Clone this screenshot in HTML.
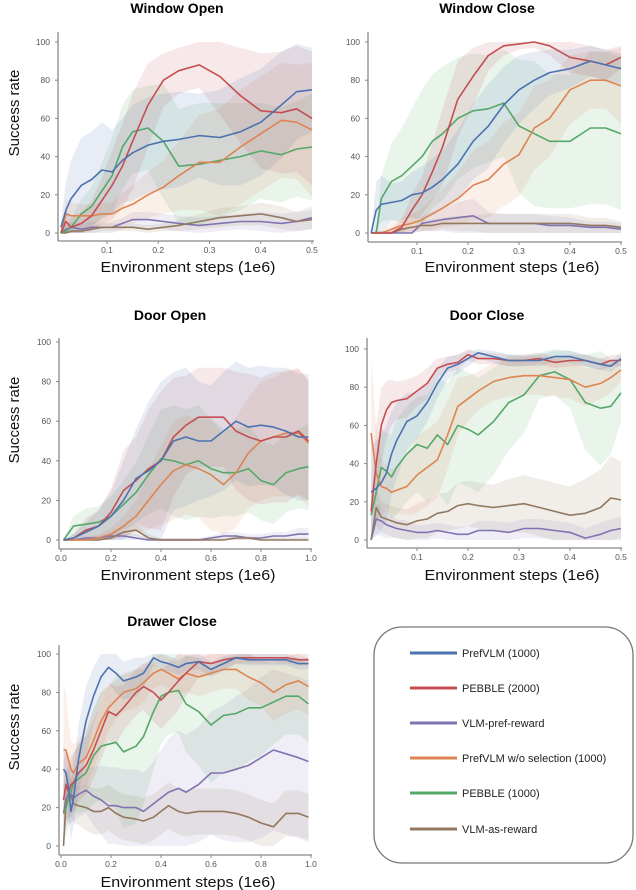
<!DOCTYPE html>
<html><head><meta charset="utf-8"><style>
html,body{margin:0;padding:0;background:#fff;}
svg{display:block;font-family:"Liberation Sans","DejaVu Sans",sans-serif;}
</style></head><body>
<svg id="fig" width="636" height="890" viewBox="0 0 636 890">
<g>
<rect x="374" y="627" width="259" height="236" rx="28" ry="28" fill="#fff" stroke="#777" stroke-width="1.3"/>
<g font-size="11" fill="#222">
<line x1="410" y1="653" x2="457" y2="653" stroke="#4c72b0" stroke-width="3"/><text x="462" y="657">PrefVLM (1000)</text>
<line x1="410" y1="688" x2="457" y2="688" stroke="#c44e52" stroke-width="3"/><text x="462" y="692">PEBBLE (2000)</text>
<line x1="410" y1="723" x2="457" y2="723" stroke="#8172b2" stroke-width="3"/><text x="462" y="727">VLM-pref-reward</text>
<line x1="410" y1="758" x2="457" y2="758" stroke="#dd8452" stroke-width="3"/><text x="462" y="762">PrefVLM w/o selection (1000)</text>
<line x1="410" y1="793" x2="457" y2="793" stroke="#55a868" stroke-width="3"/><text x="462" y="797">PEBBLE (1000)</text>
<line x1="410" y1="829" x2="457" y2="829" stroke="#937860" stroke-width="3"/><text x="462" y="833">VLM-as-reward</text>
</g></g>
</svg>
<script>
// ---- Window Open ----
const woX=[0.01,0.02,0.03,0.05,0.07,0.09,0.11,0.13,0.15,0.18,0.21,0.24,0.28,0.32,0.36,0.40,0.44,0.47,0.5];
const woBlue=[3,12,18,25,28,33,32,38,42,46,48,49,51,50,53,58,67,74,75];
const woRed=[0,6,3,5,9,17,25,35,48,67,80,85,88,82,72,64,63,65,60];
const woPurple=[0,2,3,2,3,3,3,5,7,7,6,5,4,5,6,6,5,6,8];
const woOrange=[0,10,9,9,9,10,10,13,15,20,24,30,37,37,45,52,59,58,54];
const woGreen=[0,1,3,10,14,22,30,45,53,55,48,35,36,38,40,43,41,44,45];
const woBrown=[0,0,1,1,2,3,3,3,3,2,3,4,6,8,9,10,8,6,7];
const woBlueSd=[3,15,20,25,25,25,22,22,25,25,25,25,22,25,28,28,28,25,22];
const woRedSd=[1,6,5,6,8,12,18,22,25,22,14,12,12,20,25,30,32,33,35];
const woPurpleSd=[1,2,3,3,3,3,3,3,4,4,4,4,4,4,4,5,5,5,6];
const woOrangeSd=[1,8,7,6,6,6,6,8,10,12,14,18,25,28,30,30,30,30,35];
const woGreenSd=[1,3,5,8,10,15,20,22,22,22,30,30,32,30,28,25,25,25,28];
const woBrownSd=[1,1,1,1,2,2,2,2,2,2,2,3,4,5,5,6,6,5,5];
// ---- Window Close ----
const wcX=[0.01,0.02,0.03,0.05,0.07,0.09,0.11,0.13,0.15,0.18,0.21,0.24,0.27,0.3,0.33,0.36,0.4,0.44,0.47,0.5];
const wcBlue=[0,12,15,16,17,20,21,24,28,36,48,56,67,75,80,84,86,90,88,86];
const wcRed=[0,0,0,0,3,12,20,32,45,70,82,93,98,99,100,98,92,90,88,92];
const wcPurple=[0,0,0,0,0,0,5,6,7,8,9,5,5,5,5,4,4,3,3,2];
const wcOrange=[0,0,0,2,4,5,7,10,13,18,25,28,36,41,55,60,75,80,80,77];
const wcGreen=[0,0,18,27,30,35,40,48,52,60,64,65,68,56,52,48,48,55,55,52];
const wcBrown=[0,0,0,0,2,3,4,4,5,5,5,5,5,5,5,5,5,4,4,3];
const wcBlueSd=[0,15,15,10,10,12,14,15,15,18,20,22,20,18,15,12,10,8,8,8];
const wcRedSd=[0,0,0,2,4,8,10,15,20,20,15,8,5,3,3,5,8,8,8,6];
const wcPurpleSd=[0,1,1,1,2,2,4,5,6,8,9,6,5,5,5,5,4,3,3,3];
const wcOrangeSd=[0,1,1,3,4,5,6,8,10,14,18,20,22,22,22,20,18,15,15,20];
const wcGreenSd=[0,2,12,20,25,30,35,35,35,32,30,28,28,35,38,35,35,40,40,40];
const wcBrownSd=[0,1,1,1,2,2,3,3,3,4,4,5,5,5,5,5,5,4,4,3];
// ---- Door Open ----
const doX=[0.01,0.05,0.1,0.15,0.2,0.25,0.3,0.35,0.4,0.45,0.5,0.55,0.6,0.65,0.7,0.75,0.8,0.85,0.9,0.95,0.99];
const doBlue=[0,1,4,7,12,20,31,35,40,50,52,50,50,55,60,57,58,57,55,52,52];
const doRed=[0,1,5,7,14,25,30,36,40,52,58,62,62,62,55,52,50,52,52,55,50];
const doPurple=[0,0,1,1,2,2,1,0,0,0,0,0,1,2,2,1,1,2,2,3,3];
const doOrange=[0,0,0,1,3,7,12,20,28,35,38,36,33,28,34,44,50,52,54,54,49];
const doGreen=[0,7,8,9,12,18,24,33,41,40,38,40,36,34,34,36,30,28,34,36,37];
const doBrown=[0,0,0,0,1,4,5,1,0,0,0,0,0,0,1,1,0,0,0,0,0];
const doBlueSd=[0,2,5,8,12,20,25,35,40,35,35,30,28,30,30,30,30,30,32,32,32];
const doRedSd=[0,2,6,8,12,20,22,30,35,30,25,25,25,25,30,32,32,33,33,32,30];
const doPurpleSd=[0,1,1,1,2,2,2,1,1,1,1,1,1,2,2,2,2,2,2,3,3];
const doOrangeSd=[0,1,1,2,3,5,8,15,20,25,25,25,28,25,28,28,30,30,32,32,32];
const doGreenSd=[0,5,8,8,10,12,15,20,25,28,28,28,25,22,22,22,20,20,20,20,22];
const doBrownSd=[0,1,1,1,2,3,3,2,1,1,1,1,1,1,1,1,1,1,1,1,1];
// ---- Door Close ----
const dcX=[0.01,0.02,0.03,0.04,0.05,0.06,0.08,0.1,0.12,0.14,0.16,0.18,0.2,0.22,0.25,0.28,0.31,0.34,0.37,0.4,0.43,0.46,0.48,0.5];
const dcBlue=[25,27,30,35,45,52,62,65,72,82,90,92,95,98,96,94,94,94,96,96,94,92,91,95];
const dcRed=[15,40,60,68,72,73,74,78,82,90,92,93,97,95,95,94,94,95,93,94,94,92,94,94];
const dcPurple=[0,11,10,8,7,6,5,4,4,5,4,3,3,5,5,4,6,6,5,4,1,3,5,6];
const dcOrange=[56,35,28,27,25,26,28,34,38,42,55,70,74,78,83,85,86,86,85,84,80,82,85,89];
const dcGreen=[13,25,38,36,33,38,45,50,48,55,50,60,58,55,62,72,76,86,88,84,72,69,70,77];
const dcBrown=[0,17,12,11,10,9,8,10,11,14,15,18,19,18,17,18,19,17,15,13,14,17,22,21];
const dcBlueSd=[25,25,25,25,22,20,15,12,10,8,6,5,4,3,3,3,3,3,3,3,3,3,3,3];
const dcRedSd=[10,20,20,15,12,10,10,8,8,5,4,4,3,3,3,3,3,3,3,3,3,3,3,3];
const dcPurpleSd=[0,8,8,7,6,5,5,4,4,4,4,4,4,5,5,5,5,5,5,5,5,6,6,6];
const dcOrangeSd=[40,25,15,12,12,12,15,20,20,20,18,15,12,10,10,10,10,10,10,10,10,8,8,6];
const dcGreenSd=[10,15,20,20,22,25,25,25,28,30,32,30,30,30,28,25,20,12,12,15,25,30,25,15];
const dcBrownSd=[0,10,8,8,8,8,8,9,10,10,10,12,12,12,12,14,15,15,15,15,18,20,22,20];
// ---- Drawer Close ----
const drX=[0.01,0.02,0.03,0.04,0.05,0.07,0.1,0.13,0.16,0.19,0.22,0.25,0.3,0.33,0.37,0.4,0.43,0.47,0.5,0.55,0.6,0.65,0.7,0.75,0.8,0.85,0.9,0.95,0.99];
const drBlue=[40,38,30,18,25,45,65,78,88,93,90,86,88,90,98,96,95,93,95,96,92,95,98,97,97,97,97,95,95];
const drRed=[24,32,28,32,33,38,42,50,60,70,68,72,80,83,80,76,80,86,90,96,95,97,98,98,98,98,98,97,97];
const drPurple=[17,25,27,27,25,27,29,26,24,21,21,20,20,18,22,25,28,30,28,32,38,38,40,42,46,50,48,46,44];
const drOrange=[50,50,45,40,38,43,46,55,65,72,76,80,82,85,90,92,90,87,90,88,90,92,92,88,85,80,84,86,83];
const drGreen=[17,20,25,28,33,35,38,47,52,53,54,49,52,57,70,78,80,81,74,70,63,68,69,72,72,75,78,78,74];
const drBrown=[0,23,25,26,22,21,20,18,18,20,17,15,14,13,15,18,21,18,17,18,18,18,17,15,12,10,17,17,15];
const drBlueSd=[12,12,15,15,15,18,18,15,12,8,10,10,10,8,4,4,4,4,4,4,4,4,3,3,3,3,3,3,3];
const drRedSd=[20,18,15,15,15,15,15,15,15,15,15,12,12,12,15,15,15,15,12,8,6,5,3,3,3,3,3,3,3];
const drPurpleSd=[15,15,15,15,12,12,12,15,18,20,20,20,20,20,22,25,28,30,30,30,32,35,38,40,42,42,42,42,42];
const drOrangeSd=[35,30,20,15,15,12,15,15,15,12,10,10,10,10,8,8,8,8,10,10,10,10,10,12,12,15,15,15,15];
const drGreenSd=[15,15,15,15,15,18,20,25,28,30,35,40,40,35,30,25,22,22,25,28,30,30,30,28,25,22,20,20,20];
const drBrownSd=[10,10,10,10,10,10,12,12,12,12,12,12,12,12,12,12,12,12,12,12,12,12,12,12,12,12,12,12,12];
const yTicks=[0,20,40,60,80,100];
const xTicksHalf=[0.1,0.2,0.3,0.4,0.5];
const xTicksFull=[0,0.2,0.4,0.6,0.8,1.0];
const xTickLabelsHalf=["0.1","0.2","0.3","0.4","0.5"];
const xTickLabelsFull=["0.0","0.2","0.4","0.6","0.8","1.0"];

const NS="http://www.w3.org/2000/svg";
const svg=document.getElementById('fig');
const legendNode=svg.firstElementChild;
const colors={blue:'#4c72b0',red:'#c44e52',purple:'#8172b2',orange:'#dd8452',green:'#55a868',brown:'#937860'};
function mk(tag,attrs,parent){const e=document.createElementNS(NS,tag);for(const k in attrs)e.setAttribute(k,attrs[k]);parent.appendChild(e);return e;}

function plot(c){
  const g=document.createElementNS(NS,'g');
  
  
  svg.insertBefore(g,legendNode);
  const xs=v=>c.xa+(v-c.va)*(c.xb-c.xa)/(c.vb-c.va);
  const ys=v=>c.y0+(c.y100-c.y0)*v/100;
  // bands
  c.series.forEach(s=>{
    const up=s.m.map((v,i)=>xs(c.x[i]).toFixed(1)+','+ys(Math.min(100,v+s.sd[i])).toFixed(1));
    const lo=s.m.map((v,i)=>xs(c.x[i]).toFixed(1)+','+ys(Math.max(0,v-s.sd[i])).toFixed(1)).reverse();
    const p=mk('polygon',{points:up.concat(lo).join(' '),fill:colors[s.c],'fill-opacity':0.13,stroke:'none'},g);
    
    
  });
  c.series.forEach(s=>{
    const pts=s.m.map((v,i)=>xs(c.x[i]).toFixed(1)+','+ys(v).toFixed(1)).join(' ');
    const l=mk('polyline',{points:pts,fill:'none',stroke:colors[s.c],'stroke-width':1.6,'stroke-linejoin':'round'},g);
    
    
  });
  // spines
  const sp1=mk('line',{x1:c.sx,y1:c.top,x2:c.sx,y2:c.ax,stroke:'#888','stroke-width':1.3},g);
  
  
  const sp2=mk('line',{x1:c.sx,y1:c.ax,x2:c.xr,y2:c.ax,stroke:'#888','stroke-width':1.3},g);
  
  
  yTicks.forEach(t=>{
    const y=ys(t);
    mk('line',{x1:c.sx-3,y1:y,x2:c.sx,y2:y,stroke:'#888','stroke-width':1},g);
    const tx=mk('text',{x:c.sx-8,y:y+3,'text-anchor':'end','font-size':8.5,fill:'#555'},g);
    tx.textContent=t;
    
    
  });
  c.xt.forEach((t,i)=>{
    const x=xs(t);
    mk('line',{x1:x,y1:c.ax,x2:x,y2:c.ax+3,stroke:'#888','stroke-width':1},g);
    const tx=mk('text',{x:x,y:c.ax+12,'text-anchor':'middle','font-size':8.5,fill:'#555'},g);
    tx.textContent=c.xl[i];
    
    
  });
  const ti=mk('text',{x:c.tx,y:c.ty,'text-anchor':'middle','font-size':14,'font-weight':'bold',fill:'#000'},g);
  ti.textContent=c.title;
  
  
  const xl=mk('text',{x:c.lx,y:c.ly,'text-anchor':'middle','font-size':15,fill:'#111',textLength:175,lengthAdjust:'spacingAndGlyphs'},g);
  xl.textContent='Environment steps (1e6)';
  
  
  if(c.yl){
    const yl=mk('text',{x:0,y:0,transform:'translate(19,'+c.yl+') rotate(-90)','text-anchor':'middle','font-size':15,fill:'#111'},g);
    yl.textContent='Success rate';
    
    
  }
}
function S(b,r,p,o,gr,br,bs,rs,ps,os,gs,bws){return [{c:'purple',m:p,sd:ps},{c:'brown',m:br,sd:bws},{c:'green',m:gr,sd:gs},{c:'orange',m:o,sd:os},{c:'red',m:r,sd:rs},{c:'blue',m:b,sd:bs}];}
plot({name:'window-open',title:'Window Open',x:woX,series:S(woBlue,woRed,woPurple,woOrange,woGreen,woBrown,woBlueSd,woRedSd,woPurpleSd,woOrangeSd,woGreenSd,woBrownSd),
  xa:107,xb:312,va:0.1,vb:0.5,y0:233,y100:42,sx:58,top:32,ax:241,xr:314,xt:xTicksHalf,xl:xTickLabelsHalf,tx:177,ty:13,lx:188,ly:272,yl:113});
plot({name:'window-close',title:'Window Close',x:wcX,series:S(wcBlue,wcRed,wcPurple,wcOrange,wcGreen,wcBrown,wcBlueSd,wcRedSd,wcPurpleSd,wcOrangeSd,wcGreenSd,wcBrownSd),
  xa:417,xb:621,va:0.1,vb:0.5,y0:233,y100:42,sx:368,top:32,ax:242,xr:622,xt:xTicksHalf,xl:xTickLabelsHalf,tx:487,ty:13,lx:512,ly:272});
plot({name:'door-open',title:'Door Open',x:doX,series:S(doBlue,doRed,doPurple,doOrange,doGreen,doBrown,doBlueSd,doRedSd,doPurpleSd,doOrangeSd,doGreenSd,doBrownSd),
  xa:61,xb:311,va:0,vb:1,y0:540,y100:342,sx:59,top:338,ax:549,xr:312,xt:xTicksFull,xl:xTickLabelsFull,tx:170,ty:320,lx:188,ly:580,yl:420});
plot({name:'door-close',title:'Door Close',x:dcX,series:S(dcBlue,dcRed,dcPurple,dcOrange,dcGreen,dcBrown,dcBlueSd,dcRedSd,dcPurpleSd,dcOrangeSd,dcGreenSd,dcBrownSd),
  xa:417,xb:621,va:0.1,vb:0.5,y0:540,y100:349,sx:367,top:338,ax:548,xr:622,xt:xTicksHalf,xl:xTickLabelsHalf,tx:487,ty:320,lx:512,ly:580});
plot({name:'drawer-close',title:'Drawer Close',x:drX,series:S(drBlue,drRed,drPurple,drOrange,drGreen,drBrown,drBlueSd,drRedSd,drPurpleSd,drOrangeSd,drGreenSd,drBrownSd),
  xa:61,xb:311,va:0,vb:1,y0:846,y100:654,sx:59,top:645,ax:855,xr:312,xt:xTicksFull,xl:xTickLabelsFull,tx:172,ty:626,lx:188,ly:887,yl:727});
</script>
</body></html>
